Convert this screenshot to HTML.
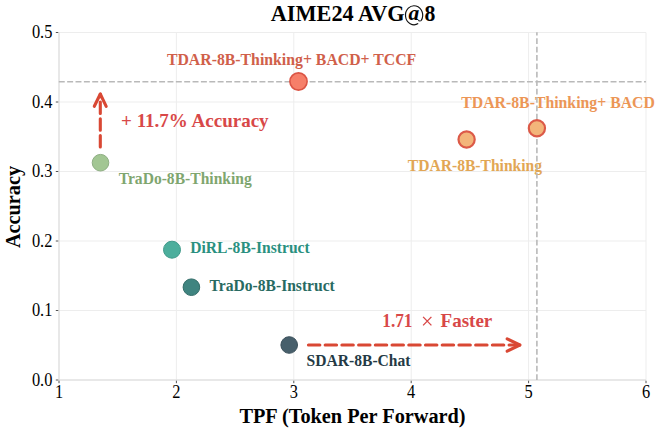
<!DOCTYPE html>
<html><head><meta charset="utf-8">
<style>
html,body{margin:0;padding:0;background:#fff;}
body{width:660px;height:433px;overflow:hidden;}
svg{display:block;}
text{font-family:"Liberation Serif",serif;}
</style></head><body>
<svg width="660" height="433" viewBox="0 0 660 433">
<rect width="660" height="433" fill="#fff"/>
<g stroke="#ededed" stroke-width="1">
<line x1="176.4" y1="32.5" x2="176.4" y2="380"/>
<line x1="293.8" y1="32.5" x2="293.8" y2="380"/>
<line x1="411.2" y1="32.5" x2="411.2" y2="380"/>
<line x1="528.6" y1="32.5" x2="528.6" y2="380"/>
<line x1="646.0" y1="32.5" x2="646.0" y2="380"/>
<line x1="59" y1="310.5" x2="646" y2="310.5"/>
<line x1="59" y1="241.0" x2="646" y2="241.0"/>
<line x1="59" y1="171.5" x2="646" y2="171.5"/>
<line x1="59" y1="102.0" x2="646" y2="102.0"/>
<line x1="59" y1="32.5" x2="646" y2="32.5"/>
</g>
<g stroke="#e0e0e0" stroke-width="1.5"><line x1="59" y1="32.5" x2="59" y2="380.75"/><line x1="58.25" y1="380" x2="646" y2="380"/></g>
<g stroke="#555" stroke-width="1">
<line x1="55.8" y1="380.0" x2="58.3" y2="380.0"/>
<line x1="55.8" y1="310.5" x2="58.3" y2="310.5"/>
<line x1="55.8" y1="241.0" x2="58.3" y2="241.0"/>
<line x1="55.8" y1="171.5" x2="58.3" y2="171.5"/>
<line x1="55.8" y1="102.0" x2="58.3" y2="102.0"/>
<line x1="55.8" y1="32.5" x2="58.3" y2="32.5"/>
<line x1="59.0" y1="380.7" x2="59.0" y2="383.2"/>
<line x1="176.4" y1="380.7" x2="176.4" y2="383.2"/>
<line x1="293.8" y1="380.7" x2="293.8" y2="383.2"/>
<line x1="411.2" y1="380.7" x2="411.2" y2="383.2"/>
<line x1="528.6" y1="380.7" x2="528.6" y2="383.2"/>
<line x1="646.0" y1="380.7" x2="646.0" y2="383.2"/>
</g>
<g font-size="16.4" fill="#000" text-anchor="end">
<text transform="translate(52.4,38.40) scale(1,1.1)">0.5</text>
<text transform="translate(52.4,107.90) scale(1,1.1)">0.4</text>
<text transform="translate(52.4,177.40) scale(1,1.1)">0.3</text>
<text transform="translate(52.4,246.90) scale(1,1.1)">0.2</text>
<text transform="translate(52.4,316.40) scale(1,1.1)">0.1</text>
<text transform="translate(52.4,385.90) scale(1,1.1)">0.0</text>
</g>
<g font-size="16.4" fill="#000" text-anchor="middle">
<text transform="translate(59.0,398.1) scale(1,1.1)">1</text>
<text transform="translate(176.4,398.1) scale(1,1.1)">2</text>
<text transform="translate(293.8,398.1) scale(1,1.1)">3</text>
<text transform="translate(411.2,398.1) scale(1,1.1)">4</text>
<text transform="translate(528.6,398.1) scale(1,1.1)">5</text>
<text transform="translate(646.0,398.1) scale(1,1.1)">6</text>
</g>
<text transform="translate(352.5,423.1) scale(1,1.04)" font-size="20.3" font-weight="bold" text-anchor="middle" fill="#000">TPF (Token Per Forward)</text>
<text transform="translate(19.6,207) rotate(-90) scale(1,1.04)" font-size="20.3" font-weight="bold" text-anchor="middle" fill="#000">Accuracy</text>
<text transform="translate(270.7,20.8) scale(1,1.047)" font-size="22.3" font-weight="bold" fill="#000">AIME24 AVG</text>
<text transform="translate(424.6,20.8) scale(1,1.07)" font-size="21.8" font-weight="bold" fill="#000">8</text>
<text transform="translate(408.5,20.3) scale(1,1.0)" font-size="21.5" font-weight="bold" font-style="italic" fill="#000">a</text>
<path d="M421.2 20.6 A8.6 9.5 0 1 0 418.2 23.6" stroke="#111" stroke-width="1.15" fill="none"/>
<path d="M418.2 20.6 Q420 21.4 421.2 20.6" stroke="#111" stroke-width="1.1" fill="none"/>
<g stroke="#d94834" stroke-width="3.1" stroke-linecap="round" stroke-linejoin="round" fill="none">
<path d="M308.45 345 L519.8 345" stroke-dasharray="11.4 5.32"/>
<path d="M507.2 338.8 L519.8 345 L507.2 351.2"/>
<path d="M100.3 146.95 L100.3 94" stroke-dasharray="11.4 5.32"/>
<path d="M94.3 106.3 L100.3 94 L106.2 106.3"/>
</g>
<text transform="translate(166.9,64.5) scale(1,1.09)" font-size="15.8" font-weight="bold" fill="#d0604a">TDAR-8B-Thinking+ BACD+ TCCF</text>
<text transform="translate(461.2,107.5) scale(1,1.09)" font-size="15.8" font-weight="bold" fill="#ec9656">TDAR-8B-Thinking+ BACD</text>
<text transform="translate(407.8,171.2) scale(1,1.09)" font-size="15.6" font-weight="bold" fill="#e2a654">TDAR-8B-Thinking</text>
<text transform="translate(118.7,183.6) scale(1,1.09)" font-size="15.6" font-weight="bold" fill="#7fa66f">TraDo-8B-Thinking</text>
<text transform="translate(190.2,253.0) scale(1,1.09)" font-size="15.6" font-weight="bold" fill="#2a9080">DiRL-8B-Instruct</text>
<text transform="translate(209.6,290.7) scale(1,1.09)" font-size="15.6" font-weight="bold" fill="#286a62">TraDo-8B-Instruct</text>
<text transform="translate(306.6,366.4) scale(1,1.09)" font-size="15.6" font-weight="bold" fill="#243a45">SDAR-8B-Chat</text>
<g font-size="19" font-weight="bold" fill="#d84848">
<text x="121.1" y="126.8">+ 11.7% Accuracy</text>
<text x="382.3" y="327.1" textLength="30.2" lengthAdjust="spacingAndGlyphs">1.71</text>
<text x="440.6" y="327.1">Faster</text>
</g>
<path d="M423.1 316.9 L431.4 325.4 M431.4 316.9 L423.1 325.4" stroke="#d84848" stroke-width="1.35" fill="none"/>
<g stroke="#b9b9b9" stroke-width="1.6">
<line x1="58.8" y1="81.7" x2="646" y2="81.7" stroke-dasharray="5.95 2.41"/>
<line x1="536.9" y1="380" x2="536.9" y2="32.3" stroke-dasharray="5.75 2.65"/>
</g>
<circle cx="298.5" cy="81.5" r="8.6" fill="#f67f69" stroke="#db5444" stroke-width="1.6"/>
<circle cx="466.6" cy="139.5" r="8.1" fill="#f3b57a" stroke="#dc5a48" stroke-width="2.2"/>
<circle cx="536.9" cy="128.2" r="8.1" fill="#f3b57a" stroke="#dc5a48" stroke-width="2.2"/>
<circle cx="100.5" cy="162.7" r="8.3" fill="#a2c693" stroke="#8eae83" stroke-width="1.0"/>
<circle cx="172.0" cy="249.7" r="8.5" fill="#4cae9c" stroke="#3f9a8a" stroke-width="1.0"/>
<circle cx="191.4" cy="287.2" r="8.3" fill="#3f8480" stroke="#326c68" stroke-width="1.0"/>
<circle cx="289.2" cy="345.0" r="8.3" fill="#475f6b" stroke="#3a4f5a" stroke-width="1.0"/>
</svg>
</body></html>
